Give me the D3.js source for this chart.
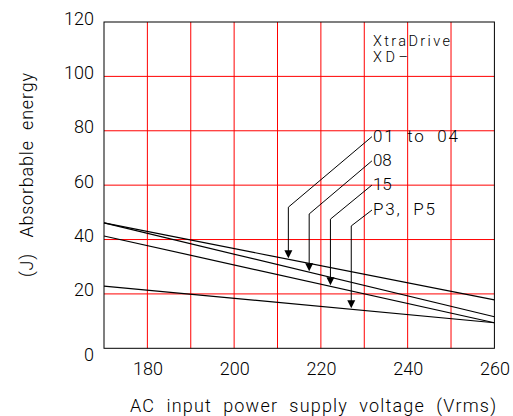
<!DOCTYPE html>
<html><head><meta charset="utf-8">
<script src="https://cdn.jsdelivr.net/npm/d3@7"></script>
<style>
html,body{margin:0;padding:0;background:#fff;}
text{font-family:Roboto,"DejaVu Sans",sans-serif;font-weight:300;fill:#000;}
</style></head>
<body><svg id="c" width="513" height="416"></svg>
<script>
// ---- data ----
const voltage = [170, 260];
const series01to04 = [46.1, 17.8];
const series08 = [46.1, 11.6];
const series15 = [41.3, 9.4];
const seriesP3P5 = [22.9, 9.4];
const seriesNames = ["01\u00a0\u00a0to\u00a0\u00a004", "08", "15", "P3,\u00a0\u00a0P5"];
const arrowVoltage = [212.5, 217.3, 222.2, 227.0];
const xTicks = [180, 200, 220, 240, 260];
const yTicks = [0, 20, 40, 60, 80, 100, 120];
const xGrid = [180, 190, 200, 210, 220, 230, 240, 250];
const yGrid = [20, 40, 60, 80, 100];
const modelTitle = ["XtraDrive", "XD\u2013"];
const xTitle = "AC\u00a0\u00a0input\u00a0\u00a0power\u00a0\u00a0supply\u00a0\u00a0voltage\u00a0\u00a0(Vrms)";
const yTitle = "(J)\u00a0\u00a0\u00a0Absorbable\u00a0\u00a0energy";

const allSeries = [series01to04, series08, series15, seriesP3P5];

// ---- drawing ----
const svg = d3.select("#c");
const x = d3.scaleLinear().domain([170, 260]).range([104, 494.4]);
const y = d3.scaleLinear().domain([0, 120]).range([348.3, 22]);

// grid
svg.append("g").selectAll("line").data(xGrid).join("line")
  .attr("x1", d => x(d)).attr("x2", d => x(d)).attr("y1", y(0)).attr("y2", y(120))
  .attr("stroke", "#ff0000").attr("stroke-width", 1);
svg.append("g").selectAll("line").data(yGrid).join("line")
  .attr("x1", x(170)).attr("x2", x(260)).attr("y1", d => y(d)).attr("y2", d => y(d))
  .attr("stroke", "#ff0000").attr("stroke-width", 1);

// lines
const line = d3.line().x((d, i) => x(voltage[i])).y(d => y(d));
svg.append("g").selectAll("path").data(allSeries).join("path")
  .attr("d", d => line(d)).attr("fill", "none").attr("stroke", "#000").attr("stroke-width", 1.2);

// frame
svg.append("rect").attr("x", x(170)).attr("y", y(120)).attr("width", x(260) - x(170)).attr("height", y(0) - y(120))
  .attr("fill", "none").attr("stroke", "#000").attr("stroke-width", 1);

// axes (labels only)
const xAxis = d3.axisBottom(x).tickValues(xTicks).tickSize(0).tickPadding(0).tickFormat(d3.format("d"));
const gx = svg.append("g").attr("transform", `translate(0,${y(0)})`).call(xAxis);
gx.select(".domain").remove();
gx.selectAll("text").attr("dy", null).attr("y", 27).attr("font-size", 18)
  .style("font-family", "Roboto, 'DejaVu Sans', sans-serif").style("font-weight", 300);

const yAxis = d3.axisLeft(y).tickValues(yTicks).tickSize(0).tickPadding(10).tickFormat(d3.format("d"));
const gy = svg.append("g").attr("transform", `translate(${x(170)},0)`).call(yAxis);
gy.select(".domain").remove();
gy.selectAll("text").attr("dy", null).attr("y", d => d === 0 ? 12 : 2).attr("font-size", 18)
  .style("font-family", "Roboto, 'DejaVu Sans', sans-serif").style("font-weight", 300);

// axis titles
svg.append("text").attr("x", 130).attr("y", 411.5).attr("font-size", 18)
  .attr("textLength", 366).attr("lengthAdjust", "spacing").text(xTitle);
svg.append("text").attr("transform", "translate(33,277) rotate(-90)").attr("font-size", 18)
  .attr("textLength", 204).attr("lengthAdjust", "spacing").text(yTitle);

// model title
svg.append("text").attr("x", x(232)).attr("y", 45.5).attr("font-size", 14.5)
  .attr("textLength", 77).attr("lengthAdjust", "spacing").text(modelTitle[0]);
svg.append("text").attr("x", x(232)).attr("y", 62).attr("font-size", 14.5)
  .attr("textLength", 35).attr("lengthAdjust", "spacing").text(modelTitle[1]);

// annotations
const labelBase = [76.0, 67.1, 58.2, 49.0];      // label baselines (J)
const bendVal = [51.9, 49.4, 47.5, 45.0];        // bend points (J)
const labelLen = [85, null, null, 62];
seriesNames.forEach((name, i) => {
  const lx = x(232), ly = y(labelBase[i]);
  const t = svg.append("text").attr("x", lx).attr("y", ly).attr("font-size", 17).text(name);
  if (labelLen[i]) t.attr("textLength", labelLen[i]).attr("lengthAdjust", "spacing");
  const ax = x(arrowVoltage[i]);
  const s = allSeries[i];
  const v = s[0] + (s[1] - s[0]) * (arrowVoltage[i] - voltage[0]) / (voltage[1] - voltage[0]);
  const tipY = y(v) - 1;
  const bendY = y(bendVal[i]);
  svg.append("path")
    .attr("d", `M${lx - 1},${ly - 5}L${ax},${bendY}L${ax},${tipY - 7}`)
    .attr("fill", "none").attr("stroke", "#000").attr("stroke-width", 1);
  svg.append("path")
    .attr("d", `M${ax - 4},${tipY - 8}L${ax + 4},${tipY - 8}L${ax},${tipY}Z`)
    .attr("fill", "#000");
});
</script></body></html>
